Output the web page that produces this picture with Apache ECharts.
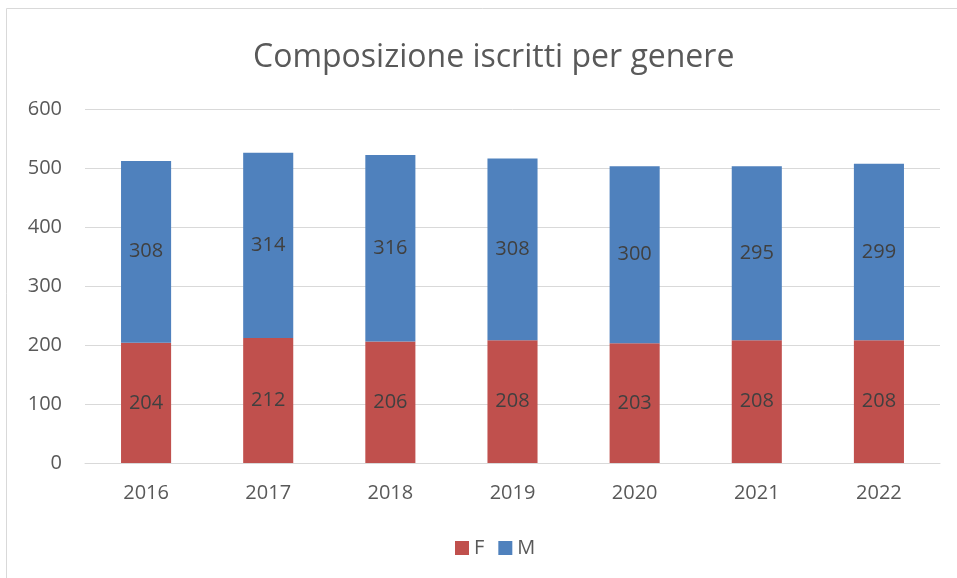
<!DOCTYPE html>
<html>
<head>
<meta charset="utf-8">
<script src="https://cdn.jsdelivr.net/npm/echarts@6/dist/echarts.min.js"></script>
<style>
  html, body { margin: 0; padding: 0; background: #fff; }
  #main { width: 957px; height: 578px; }
</style>
</head>
<body>
<div id="main"></div>
<script>
var anni = ['2016', '2017', '2018', '2019', '2020', '2021', '2022'];
var femmine = [204, 212, 206, 208, 203, 208, 208];
var maschi = [308, 314, 316, 308, 300, 295, 299];
var yTicks = [0, 100, 200, 300, 400, 500, 600];

var chart = echarts.init(document.getElementById('main'));
var font = 'Open Sans';

var option = {
    animation: false,
    textStyle: { fontFamily: font },
    graphic: [{
        type: 'rect',
        shape: { x: 6.5, y: 8.5, width: 960, height: 580 },
        style: { fill: 'none', stroke: '#d9d9d9', lineWidth: 1 }
    }],
    title: {
        text: 'Composizione iscritti per genere',
        left: 248,
        top: 37,
        textStyle: { fontFamily: font, fontSize: 32, fontWeight: 'normal', color: '#595959' }
    },
    legend: {
        data: ['F', 'M'],
        bottom: 15,
        left: 450,
        itemWidth: 14,
        itemHeight: 14,
        itemGap: 14,
        icon: 'rect',
        textStyle: { fontFamily: font, fontSize: 20, color: '#595959' }
    },
    grid: { left: 85, right: 17, top: 109, bottom: 115 },
    xAxis: {
        type: 'category',
        data: anni,
        axisLine: { lineStyle: { color: '#d9d9d9', width: 1 } },
        axisTick: { show: false },
        axisLabel: { fontFamily: font, fontSize: 20, color: '#595959', margin: 20 }
    },
    yAxis: {
        type: 'value',
        min: yTicks[0],
        max: yTicks[yTicks.length - 1],
        interval: 100,
        axisLine: { show: false },
        axisTick: { show: false },
        splitLine: { lineStyle: { color: '#d9d9d9', width: 1 } },
        axisLabel: { fontFamily: font, fontSize: 20, color: '#595959', margin: 23 }
    },
    series: [{
        name: 'F',
        type: 'bar',
        stack: 'tot',
        barWidth: '41%',
        data: femmine,
        itemStyle: { color: '#c0504d' },
        label: { show: true, position: 'inside', fontFamily: font, fontSize: 20, color: '#404040' }
    }, {
        name: 'M',
        type: 'bar',
        stack: 'tot',
        barWidth: '41%',
        data: maschi,
        itemStyle: { color: '#4f81bd' },
        label: { show: true, position: 'inside', fontFamily: font, fontSize: 20, color: '#404040' }
    }]
};

chart.setOption(option);
</script>
</body>
</html>
